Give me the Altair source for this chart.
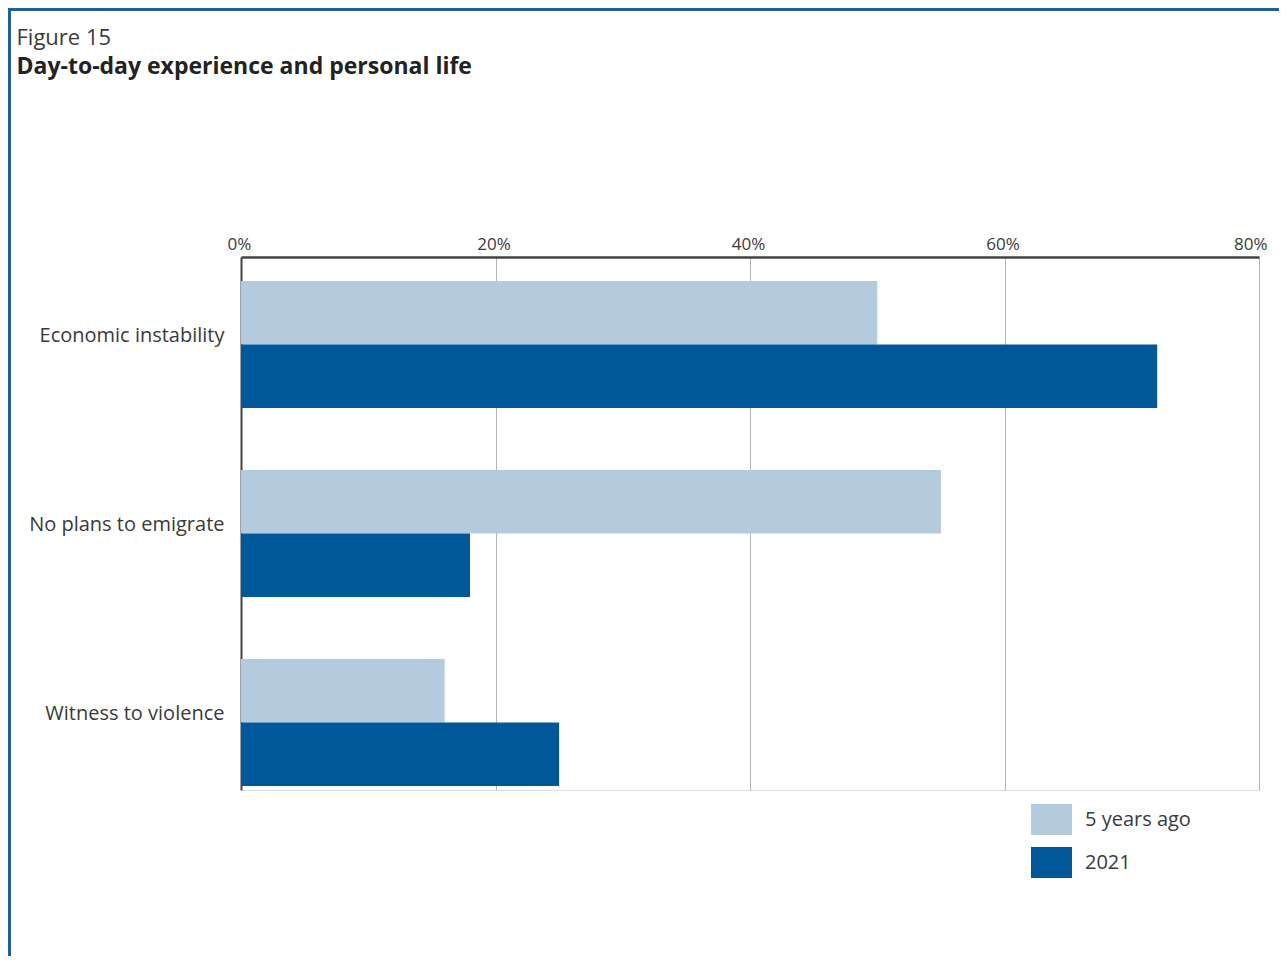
import altair as alt
import pandas as pd

categories = ["Economic instability", "No plans to emigrate", "Witness to violence"]
series_names = ["5 years ago", "2021"]
five_years_ago = [50, 55, 16]
year_2021 = [72, 18, 25]
tick_values = [0, 20, 40, 60, 80]

rows = []
for c, a, b in zip(categories, five_years_ago, year_2021):
    rows.append({"category": c, "series": series_names[0], "value": a})
    rows.append({"category": c, "series": series_names[1], "value": b})
df = pd.DataFrame(rows)

FONT = "Open Sans"
TEXT = "#3a3a3a"
PAD_L, PAD_T, PAD_R, PAD_B = 233, 249, 20, 166
W, H = 1018, 533

bars = alt.Chart(df).mark_bar().encode(
    x=alt.X("value:Q",
            scale=alt.Scale(domain=[0, 80], nice=False),
            axis=alt.Axis(orient="top", values=tick_values, labelExpr="datum.value + '%'",
                          title=None, ticks=False, domain=True, domainColor="#444444",
                          domainWidth=2.5, grid=True, gridColor="#b5b5b5", gridWidth=1,
                          labelFontSize=17, labelColor=TEXT, labelPadding=4, labelFont=FONT,
                          labelFlush=False,
                          labelOffset={"condition": {"test": "datum.value == 80", "value": 8},
                                       "value": -2},
                          labelAlign={"condition": {"test": "datum.value == 80", "value": "right"},
                                      "value": "center"})),
    y=alt.Y("category:N", sort=categories,
            scale=alt.Scale(paddingInner=0.328, paddingOuter=0.074, align=0.86),
            axis=alt.Axis(title=None, ticks=False, domain=True, domainColor="#444444",
                          domainWidth=2, labelFontSize=20, labelColor=TEXT, labelPadding=17,
                          labelFont=FONT, labelLimit=400, labelBaseline="alphabetic",
                          labelOffset=-3)),
    yOffset=alt.YOffset("series:N", sort=series_names),
    color=alt.Color("series:N", sort=series_names,
                    scale=alt.Scale(domain=series_names, range=["#b4cadd", "#00589b"]),
                    legend=alt.Legend(title=None, orient="none", legendX=790, legendY=542,
                                      symbolType="M-1,-0.756H1V0.756H-1Z", symbolSize=1681,
                                      symbolStrokeWidth=0, labelFontSize=20, labelFont=FONT,
                                      labelColor=TEXT, labelOffset=13, rowPadding=7)),
)

border_left = alt.Chart(df).mark_rule(color="#1d5f9f", strokeWidth=3).encode(
    x=alt.value(-PAD_L + 1.5), y=alt.value(-PAD_T), y2=alt.value(H + PAD_B))
border_top = alt.Chart(df).mark_rule(color="#1d5f9f", strokeWidth=3).encode(
    x=alt.value(-PAD_L), x2=alt.value(W + PAD_R), y=alt.value(-PAD_T + 1.5))

chart = alt.layer(bars, border_left, border_top).properties(
    width=W, height=H,
    padding={"left": PAD_L, "top": PAD_T, "right": PAD_R, "bottom": PAD_B},
    autosize=alt.AutoSizeParams(type="none"),
    title=alt.TitleParams(text="Figure 15", subtitle="Day-to-day experience and personal life",
                          anchor="start", font=FONT, fontSize=22, fontWeight="normal", color=TEXT,
                          subtitleFont=FONT, subtitleFontSize=23, subtitleFontWeight="bold",
                          subtitleColor="#222222", subtitlePadding=6, dx=10, offset=-73),
).configure_view(stroke=None).configure(background="white")

chart.save("out.html", embed_options={"renderer": "svg", "actions": False})
